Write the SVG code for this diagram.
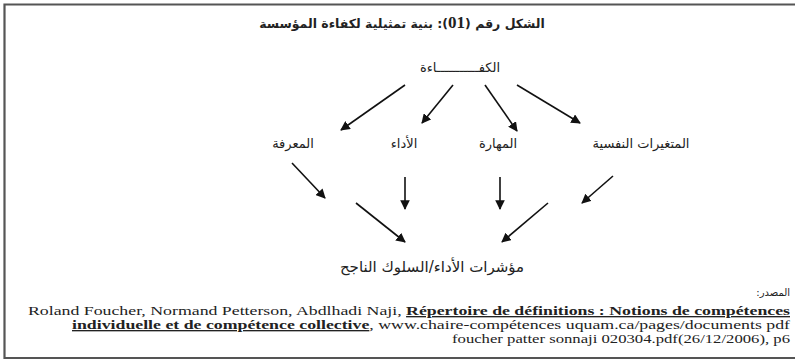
<svg xmlns="http://www.w3.org/2000/svg" width="795" height="364" viewBox="0 0 795 364">
<defs>
<marker id="ah" viewBox="0 0 10 10" refX="9" refY="5" markerWidth="6" markerHeight="6" orient="auto" markerUnits="strokeWidth">
<path d="M0,0 L10,5 L0,10 z" fill="#111"/>
</marker>
<style>
.ar{font-family:"DejaVu Sans","Noto Sans",sans-serif;fill:#222;}
.lbl{font-size:13px;}
.en{font-family:"Liberation Serif","Times New Roman",serif;font-size:13.5px;fill:#222;}
.b{font-weight:bold;text-decoration:underline;}
.c{stroke:#111;stroke-width:1.6;fill:none;marker-end:url(#ah);}
.frame{stroke:#555;stroke-width:2.2;fill:none;}
</style>
</defs>
<rect width="795" height="364" fill="#fff"/>
<g id="frame">
<polyline class="frame" points="795,4.5 4.5,4.5 4.5,358 795,358"/>
</g>
<g id="title">
<text class="ar" x="402" y="28" text-anchor="middle" direction="rtl" font-size="12.5" font-weight="bold">الشكل رقم (<tspan font-family="Liberation Serif" font-size="17">01</tspan>): بنية تمثيلية لكفاءة المؤسسة</text>
</g>
<g id="n-competence">
<text class="ar lbl" x="460" y="72" text-anchor="middle" direction="rtl">الكفـــــــــــاءة</text>
</g>
<g id="n-knowledge">
<text class="ar lbl" x="293" y="148" text-anchor="middle" direction="rtl">المعرفة</text>
</g>
<g id="n-performance">
<text class="ar lbl" x="404" y="148" text-anchor="middle" direction="rtl">الأداء</text>
</g>
<g id="n-skill">
<text class="ar lbl" x="498" y="148" text-anchor="middle" direction="rtl">المهارة</text>
</g>
<g id="n-psych">
<text class="ar lbl" x="641" y="148" text-anchor="middle" direction="rtl">المتغيرات النفسية</text>
</g>
<g id="n-indicators">
<text class="ar" x="432" y="272" text-anchor="middle" direction="rtl" font-size="15">مؤشرات الأداء/السلوك الناجح</text>
</g>
<g id="connectors">
<line class="c" x1="405" y1="85" x2="341" y2="130"/>
<line class="c" x1="453" y1="85" x2="422" y2="123"/>
<line class="c" x1="485" y1="85" x2="517" y2="131"/>
<line class="c" x1="517" y1="85" x2="580" y2="123"/>
<line class="c" x1="292" y1="163" x2="325" y2="198"/>
<line class="c" x1="405" y1="177" x2="405" y2="209"/>
<line class="c" x1="500" y1="177" x2="500" y2="209"/>
<line class="c" x1="613" y1="176" x2="582" y2="203"/>
<line class="c" x1="356" y1="203" x2="405" y2="242"/>
<line class="c" x1="548" y1="203" x2="502" y2="242"/>
</g>
<g id="source">
<text class="ar" x="790" y="296" text-anchor="start" direction="rtl" font-size="10">المصدر:</text>
<text class="en" x="28" y="315" textLength="762" lengthAdjust="spacingAndGlyphs">Roland Foucher, Normand Petterson, Abdlhadi Naji, <tspan class="b">Répertoire de définitions : Notions de compétences</tspan></text>
<text class="en" x="72" y="329" textLength="718" lengthAdjust="spacingAndGlyphs"><tspan class="b">individuelle et de compétence collective</tspan>, www.chaire-compétences uquam.ca/pages/documents pdf</text>
<text class="en" x="452" y="343" textLength="338" lengthAdjust="spacingAndGlyphs">foucher patter sonnaji 020304.pdf(26/12/2006), p6</text>
</g>
</svg>
